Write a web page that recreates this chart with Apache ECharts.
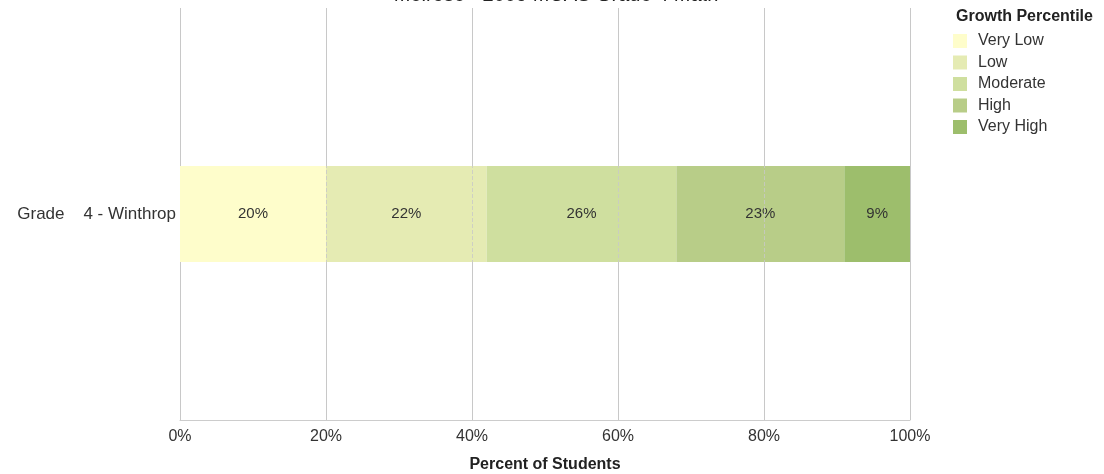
<!DOCTYPE html>
<html>
<head>
<meta charset="utf-8">
<script src="https://cdn.jsdelivr.net/npm/echarts@6/dist/echarts.min.js"></script>
<style>
  html, body { margin: 0; padding: 0; background: #fff; }
  #chart { width: 1104px; height: 474px; }
</style>
</head>
<body>
<div id="chart"></div>
<script>
// data
const categories = ['Grade    4 - Winthrop']
const levels = ['Very Low', 'Low', 'Moderate', 'High', 'Very High']
const percents = [20, 22, 26, 23, 9]
const xTicks = [0, 20, 40, 60, 80, 100]

const colors = ['#fefdcb', '#e5ebb3', '#cfdf9f', '#b8cd88', '#9dbe6c']
const font = 'Liberation Sans, Arial, sans-serif'
const gridColor = '#c8c8c8'

const chart = echarts.init(document.getElementById('chart'))

// faint dashed gridlines showing through the bar (same colour as the
// gridlines, so they only show up on top of the bar)
const gridOverlay = {
  silent: true,
  symbol: 'none',
  label: { show: false },
  lineStyle: { color: gridColor, type: 'dashed', width: 1, opacity: 0.8 },
  data: xTicks.slice(1, -1).map((v) => ({ xAxis: v }))
}

chart.setOption({
  animation: false,
  color: colors,
  textStyle: { fontFamily: font },
  title: [
    {
      text: 'Melrose - 2009 MCAS Grade 4 Math',
      left: 556,
      textAlign: 'center',
      top: -15,
      padding: 0,
      textStyle: { fontSize: 20, fontWeight: 'normal', color: '#222', fontFamily: font }
    },
    {
      text: 'Growth Percentile',
      left: 956,
      top: 9,
      padding: 0,
      textStyle: { fontSize: 16, fontWeight: 'bold', color: '#222', fontFamily: font }
    }
  ],
  legend: {
    orient: 'vertical',
    left: 953,
    top: 33,
    padding: 0,
    itemWidth: 14,
    itemHeight: 14,
    itemGap: 5.5,
    icon: 'rect',
    textStyle: { fontSize: 16, color: '#333', fontFamily: font, padding: [0, 0, 0, 6] },
    data: levels
  },
  grid: {
    left: 180,
    right: 194,
    top: 8,
    bottom: 54,
    outerBoundsMode: 'none'
  },
  xAxis: {
    type: 'value',
    min: xTicks[0],
    max: xTicks[xTicks.length - 1],
    interval: 20,
    name: 'Percent of Students',
    nameLocation: 'middle',
    nameGap: 37,
    nameTextStyle: { fontSize: 16, fontWeight: 'bold', color: '#222', fontFamily: font },
    axisLine: { show: true, lineStyle: { color: '#ccc' } },
    axisTick: { show: false },
    axisLabel: {
      fontSize: 16,
      color: '#333',
      margin: 9,
      formatter: (v) => v + '%'
    },
    splitLine: { show: true, lineStyle: { color: gridColor, width: 1 } }
  },
  yAxis: {
    type: 'category',
    data: categories,
    axisLine: { show: false },
    axisTick: { show: false },
    axisLabel: { fontSize: 17, color: '#333', margin: 4 }
  },
  series: levels.map((name, i) => ({
    name: name,
    type: 'bar',
    stack: 'total',
    barWidth: 96,
    data: [percents[i]],
    label: {
      show: true,
      position: 'inside',
      formatter: (p) => p.value + '%',
      fontSize: 15,
      color: '#333'
    },
    markLine: i === levels.length - 1 ? gridOverlay : undefined
  }))
})
</script>
</body>
</html>
